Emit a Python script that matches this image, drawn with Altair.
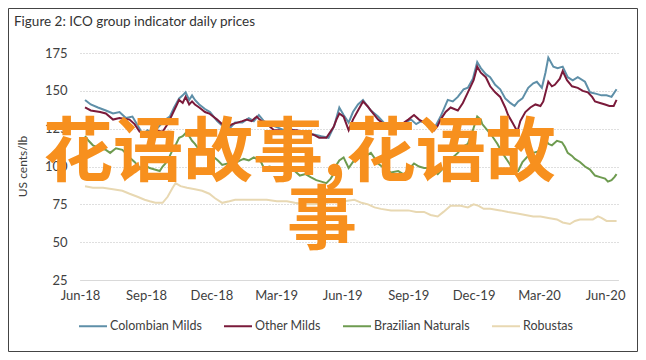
import altair as alt
import pandas as pd

title_text = "Figure 2: ICO group indicator daily prices"
y_title = "US cents/lb"
series_names = ["Colombian Milds", "Other Milds", "Brazilian Naturals", "Robustas"]
series_colors = ["#5E8FA8", "#7A1A3A", "#6E9B50", "#E8D8B2"]
overlay_line1 = "花语故事,花语故"
overlay_line2 = "事"
start_date = "2018-06-01"
tick_months = [(2018, 6), (2018, 9), (2018, 12), (2019, 3), (2019, 6),
               (2019, 9), (2019, 12), (2020, 3), (2020, 6)]
y_ticks = [25, 50, 75, 100, 125, 150, 175]

# day offsets from start_date, and prices (US cents/lb)
days_colombian = [7, 15, 25, 36, 46, 55, 64, 73, 83, 87, 94, 101, 111, 119, 125, 131, 138, 143, 147, 152,
                  156, 160, 166, 174, 181, 191, 198, 208, 216, 226, 235, 242, 249, 256, 263, 274, 284, 292, 302, 313,
                  327, 336, 346, 354, 361, 367, 374, 380, 387, 394, 400, 405, 415, 423, 433, 443, 452, 461, 468, 475,
                  484, 493, 502, 512, 519, 526, 534, 540, 547, 553, 558, 565, 571, 578, 585, 592, 599, 605, 610, 616,
                  624, 631, 636, 643, 648, 652, 659, 665, 672, 679, 686, 693, 703, 710, 719, 726, 733, 740, 747]
colombian = [144, 141, 139, 137, 135, 136, 132, 133, 125, 121, 124, 122, 127, 131, 133, 139, 145, 147, 149, 144,
             147, 144, 141, 138, 136, 130, 127, 125, 129, 129, 132, 130, 134, 130, 128, 126, 124, 125, 123, 122,
             121, 120, 119, 127, 139, 134, 129, 136, 141, 144, 140, 137, 133, 129, 128, 127, 129, 131, 128, 130,
             128, 125, 133, 144, 143, 146, 151, 152, 158, 169, 165, 161, 159, 154, 151, 145, 142, 140, 143, 145,
             152, 155, 156, 152, 162, 172, 166, 165, 166, 159, 157, 159, 156, 149, 148, 147, 147, 146, 151]

days_other = [7, 15, 28, 36, 46, 55, 69, 76, 83, 90, 97, 105, 115, 122, 129, 134, 138, 143, 147, 152,
              156, 160, 166, 174, 180, 191, 198, 205, 212, 219, 226, 232, 239, 246, 250, 256, 263, 270, 277, 284,
              293, 302, 309, 315, 325, 333, 343, 353, 357, 361, 367, 374, 380, 387, 394, 400, 405, 415, 423, 433,
              443, 451, 457, 465, 472, 479, 486, 493, 498, 502, 509, 516, 526, 533, 540, 548, 553, 558, 565, 571,
              578, 585, 592, 596, 602, 609, 613, 620, 627, 634, 641, 645, 652, 657, 661, 668, 672, 678, 685, 693,
              700, 707, 713, 717, 724, 731, 737, 743, 747]
other = [139, 137, 136, 135, 131, 132, 131, 128, 123, 122, 122, 124, 123, 128, 135, 140, 144, 142, 146, 141,
         143, 141, 139, 136, 135, 131, 128, 126, 128, 129, 130, 131, 130, 133, 131, 129, 127, 124, 124, 123,
         124, 124, 123, 122, 121, 119, 119, 126, 131, 135, 133, 124, 131, 137, 143, 140, 137, 131, 128, 129,
         128, 129, 131, 134, 131, 129, 127, 124, 127, 131, 136, 139, 137, 142, 149, 157, 166, 162, 159, 153,
         149, 146, 139, 134, 129, 123, 130, 136, 139, 141, 140, 143, 156, 153, 154, 158, 163, 157, 153, 152,
         150, 149, 146, 143, 142, 141, 140, 140, 144]

days_brazil = [7, 12, 18, 28, 36, 42, 50, 59, 65, 69, 76, 83, 90, 97, 104, 111, 115, 119, 125, 129,
               134, 138, 143, 147, 152, 156, 160, 166, 172, 180, 187, 192, 198, 205, 212, 219, 223, 228, 235, 242,
               246, 252, 256, 264, 271, 277, 284, 292, 299, 306, 314, 321, 329, 336, 343, 349, 353, 357, 361, 367,
               374, 380, 387, 392, 398, 405, 411, 415, 423, 433, 443, 450, 457, 461, 465, 472, 479, 488, 493, 498,
               504, 512, 519, 526, 533, 540, 547, 553, 558, 560, 567, 574, 581, 588, 595, 602, 606, 610, 616, 624,
               631, 638, 643, 648, 652, 657, 664, 671, 675, 679, 685, 689, 696, 703, 710, 717, 724, 731, 735, 740,
               744, 747]
brazil = [120, 117, 114, 112, 111, 109, 112, 111, 108, 106, 103, 99, 101, 99, 98, 97, 100, 102, 107, 111,
          115, 119, 120, 122, 120, 117, 115, 111, 112, 109, 106, 104, 101, 102, 100, 103, 104, 105, 104, 106,
          105, 103, 99, 100, 99, 98, 99, 97, 97, 94, 95, 93, 91, 90, 89, 92, 95, 101, 104, 106,
          99, 103, 106, 111, 107, 109, 105, 102, 99, 96, 97, 95, 96, 100, 102, 100, 99, 99, 97, 95,
          98, 102, 106, 109, 113, 115, 124, 133, 131, 128, 124, 120, 115, 109, 104, 99, 97, 97, 103, 107,
          109, 110, 116, 118, 115, 114, 117, 116, 113, 109, 107, 105, 103, 100, 98, 94, 93, 92, 90, 91,
          93, 95]

days_robusta = [7, 18, 32, 46, 59, 69, 80, 90, 97, 105, 115, 122, 129, 133, 140, 149, 160, 170, 180, 188,
                198, 208, 216, 232, 246, 260, 274, 288, 299, 313, 327, 340, 354, 368, 382, 392, 401, 410, 419, 433,
                444, 457, 468, 479, 488, 498, 506, 516, 523, 530, 540, 548, 555, 562, 571, 585, 596, 609, 620, 631,
                641, 652, 664, 672, 682, 689, 696, 706, 714, 721, 726, 733, 740, 747]
robusta = [87, 86, 86, 85, 84, 82, 80, 78, 77, 76, 76, 80, 86, 89, 87, 86, 85, 84, 82, 79,
           76, 77, 78, 78, 78, 78, 77, 77, 76, 75, 75, 76, 77, 77, 78, 76, 75, 73, 72, 71,
           71, 71, 70, 70, 68, 67, 70, 74, 74, 74, 73, 75, 74, 72, 72, 71, 70, 69, 68, 67,
           67, 66, 65, 63, 62, 64, 65, 65, 65, 67, 66, 64, 64, 64]

start = pd.Timestamp(start_date)
rows = []
for name, days, vals in zip(series_names,
                            [days_colombian, days_other, days_brazil, days_robusta],
                            [colombian, other, brazil, robusta]):
    for d, v in zip(days, vals):
        rows.append({"date": (start + pd.Timedelta(days=d)).strftime("%Y-%m-%d"),
                     "series": name, "value": v})
df = pd.DataFrame(rows)

FONT = "Lato"
tick_values = [alt.DateTime(year=y, month=m, date=1, utc=True) for y, m in tick_months]
x_domain = [alt.DateTime(year=2018, month=6, date=1, utc=True),
            alt.DateTime(year=2020, month=6, date=19, utc=True)]

lines = alt.Chart(df).mark_line(strokeWidth=2).encode(
    x=alt.X("date:T",
            scale=alt.Scale(type="utc", domain=x_domain),
            axis=alt.Axis(values=tick_values, labelExpr="utcFormat(datum.value, '%b-%y')", title=None,
                          grid=False, ticks=False, domain=True, domainColor="#D9D9D9",
                          domainWidth=1, labelPadding=9, labelFont=FONT, labelFontSize=13,
                          labelColor="#404040", labelFlush=False, labelOverlap=False)),
    y=alt.Y("value:Q",
            scale=alt.Scale(domain=[25, 175], nice=False, zero=False),
            axis=alt.Axis(values=y_ticks, title=y_title, grid=True, gridDash=[1, 2],
                          gridColor="#BFBFBF", gridWidth=1, ticks=False, domain=False,
                          labelPadding=13, labelFont=FONT, labelFontSize=13, labelColor="#404040",
                          titleFont=FONT, titleFontSize=12, titleFontWeight="normal",
                          titleColor="#404040", titleX=-58, titleY=113, titleAngle=-90,
                          titleBaseline="middle", titleAlign="center")),
    color=alt.Color("series:N",
                    scale=alt.Scale(domain=series_names, range=series_colors),
                    sort=series_names,
                    legend=alt.Legend(orient="none", legendX=-2, legendY=258, direction="horizontal",
                                      columns=4, title=None, symbolType="stroke", symbolSize=784,
                                      symbolStrokeWidth=2, labelFont=FONT, labelFontSize=12.5,
                                      labelColor="#404040", columnPadding=18, labelOffset=2,
                                      padding=0)),
)

title_df = pd.DataFrame({"t": [title_text]})
title_mark = alt.Chart(title_df).mark_text(
    align="left", baseline="middle", font=FONT, fontSize=13.5, color="#333333"
).encode(text="t:N", x=alt.value(-66), y=alt.value(-31))

frame = alt.Chart(title_df).mark_rect(filled=False, stroke="#444444", strokeWidth=1).encode(
    x=alt.value(-71.5), x2=alt.value(557.5), y=alt.value(-44.5), y2=alt.value(298.5))

over1_df = pd.DataFrame({"t": [overlay_line1]})
over2_df = pd.DataFrame({"t": [overlay_line2]})
overlay1 = alt.Chart(over1_df).mark_text(
    align="left", baseline="middle", font="Noto Sans CJK SC", fontSize=70, fontWeight="bold",
    color="#F7901E"
).encode(text="t:N", x=alt.value(-37), y=alt.value(102))
overlay2 = alt.Chart(over2_df).mark_text(
    align="center", baseline="middle", font="Noto Sans CJK SC", fontSize=70, fontWeight="bold",
    color="#F7901E"
).encode(text="t:N", x=alt.value(242), y=alt.value(170))

chart = alt.layer(frame, title_mark, lines, overlay1, overlay2).properties(
    width=538, height=227,
    autosize=alt.AutoSizeParams(type="none"),
    padding={"left": 72, "top": 45, "right": 20, "bottom": 72},
    background="white",
).configure_view(stroke=None)

chart.save("out.html", embed_options={"renderer": "svg", "actions": False})
